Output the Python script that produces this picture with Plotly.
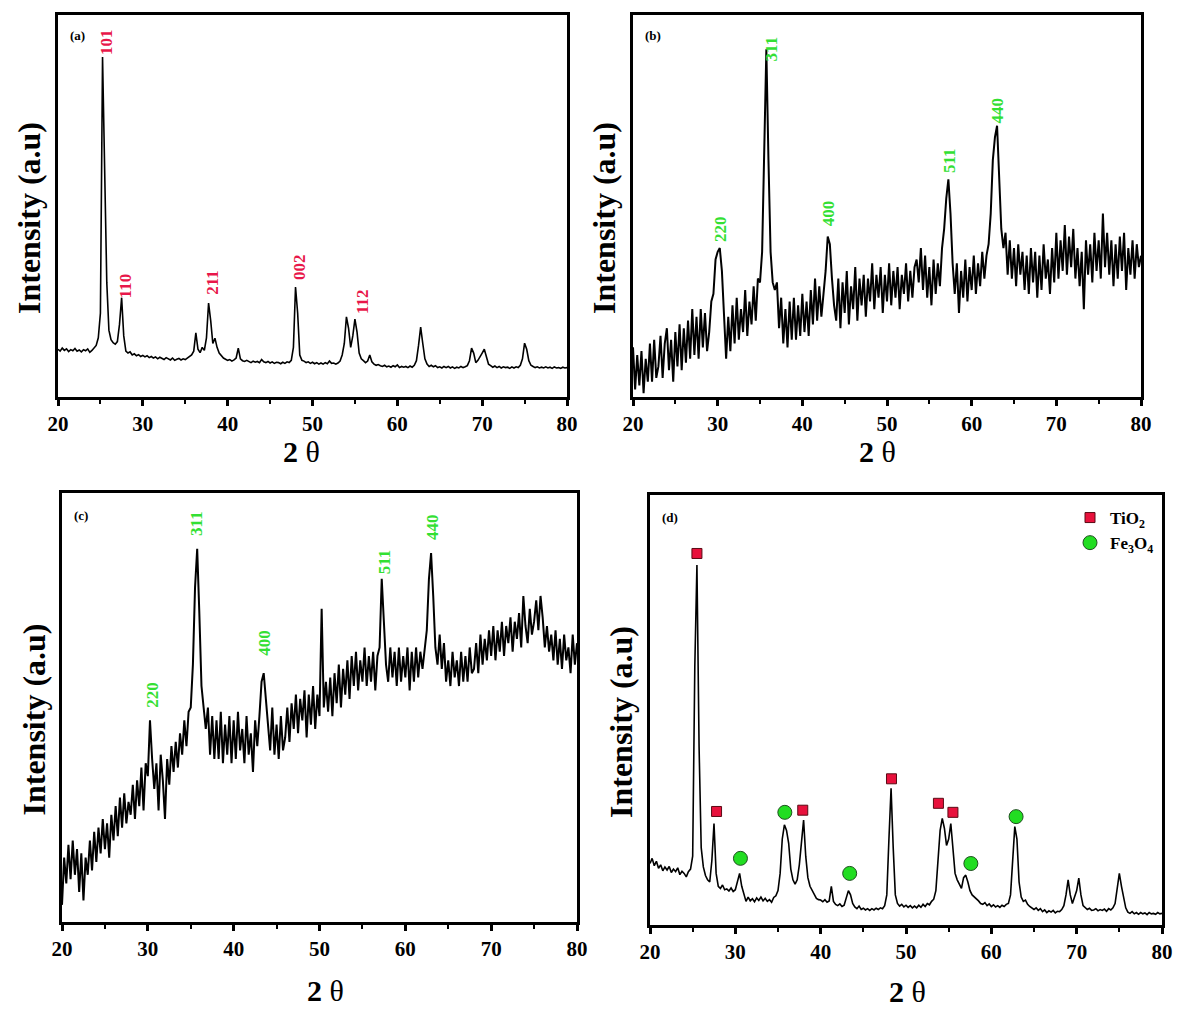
import numpy as np
import plotly.graph_objects as go

# 2-theta grid (degrees), 0.25 deg steps from 20 to 80
two_theta = np.arange(20.0, 80.0001, 0.25)

# Panel (a): TiO2 intensities (a.u., 0-100 scale), one row per degree
int_a = [
    12.5, 12.0, 12.8, 12.2,   # 20
    12.6, 11.9, 12.4, 12.1,   # 21
    12.7, 12.0, 12.3, 11.8,   # 22
    12.4, 12.1, 12.6, 11.7,   # 23
    12.2, 12.9, 13.5, 15.5,   # 24
    22.0, 89.0, 60.0, 30.0,   # 25
    17.5, 15.0, 14.2, 13.8,   # 26
    14.5, 19.0, 26.0, 16.0,   # 27
    12.0, 11.5, 11.8, 11.0,   # 28
    11.3, 10.8, 11.1, 10.6,   # 29
    10.9, 10.5, 10.8, 10.3,   # 30
    10.6, 10.2, 10.5, 10.0,   # 31
    10.4, 10.1, 9.8, 10.3,    # 32
    10.0, 9.7, 10.2, 9.6,     # 33
    9.9, 10.1, 9.7, 10.0,     # 34
    9.8, 10.2, 10.6, 11.0,    # 35
    12.0, 16.8, 12.5, 11.6,   # 36
    13.0, 12.2, 15.5, 24.6,   # 37
    20.0, 14.0, 15.4, 13.0,   # 38
    11.5, 10.8, 10.2, 9.9,    # 39
    9.6, 9.8, 9.4, 9.7,       # 40
    10.2, 12.8, 10.0, 9.5,    # 41
    9.3, 9.6, 9.2, 9.0,       # 42
    9.4, 9.1, 9.3, 9.0,       # 43
    9.8, 9.2, 9.0, 9.3,       # 44
    8.9, 9.2, 8.8, 9.1,       # 45
    9.0, 8.7, 9.1, 8.8,       # 46
    9.2, 9.0, 9.6, 13.0,      # 47
    28.8, 22.0, 11.0, 9.6,    # 48
    9.4, 9.0, 9.2, 8.8,       # 49
    9.1, 8.7, 9.0, 8.6,       # 50
    8.9, 8.6, 9.0, 8.7,       # 51
    9.4, 8.8, 8.9, 8.6,       # 52
    8.9, 9.4, 11.0, 14.0,     # 53
    21.0, 18.0, 13.0, 16.0,   # 54
    20.4, 17.0, 11.5, 10.0,   # 55
    9.5, 9.0, 9.4, 11.0,      # 56
    9.2, 8.6, 8.3, 8.5,       # 57
    8.2, 8.0, 8.3, 7.9,       # 58
    8.1, 7.8, 8.2, 7.9,       # 59
    8.4, 7.7, 8.0, 7.8,       # 60
    8.0, 7.7, 8.1, 7.8,       # 61
    8.3, 9.5, 13.5, 18.3,     # 62
    14.0, 10.0, 8.6, 8.0,     # 63
    8.3, 7.9, 8.2, 7.7,       # 64
    7.9, 7.6, 8.0, 7.7,       # 65
    8.0, 7.6, 7.9, 7.5,       # 66
    7.8, 7.6, 8.0, 7.7,       # 67
    7.9, 8.2, 9.5, 12.8,      # 68
    11.5, 9.0, 9.6, 10.4,     # 69
    11.5, 12.5, 10.5, 8.6,    # 70
    8.2, 7.8, 8.1, 7.7,       # 71
    8.0, 7.6, 7.9, 7.7,       # 72
    7.8, 7.5, 7.9, 7.6,       # 73
    7.9, 7.7, 8.3, 10.0,      # 74
    14.1, 12.5, 9.5, 8.3,     # 75
    8.0, 7.7, 7.9, 7.6,       # 76
    7.8, 7.6, 7.9, 7.6,       # 77
    7.8, 7.5, 7.9, 7.6,       # 78
    7.7, 7.5, 7.8, 7.6,       # 79
    7.7,                      # 80
]

# Panel (b): Fe3O4
int_b = [
    13, 2, 11, 3,     # 20
    12, 1, 10, 4,     # 21
    14, 4, 15, 5,     # 22
    8, 16, 5, 14,     # 23
    18, 7, 15, 4,     # 24
    17, 8, 19, 7,     # 25
    18, 9, 20, 10,    # 26
    23, 11, 21, 10,   # 27
    23, 13, 22, 12,   # 28
    17, 25, 27, 36,   # 29
    38, 39, 33, 20,   # 30
    10, 21, 12, 24,   # 31
    14, 26, 15, 23,   # 32
    17, 28, 16, 25,   # 33
    19, 29, 20, 31,   # 34
    30, 38, 70, 91,   # 35
    62, 38, 30, 28,   # 36
    30, 18, 26, 14,   # 37
    23, 13, 25, 15,   # 38
    26, 15, 24, 16,   # 39
    27, 17, 25, 16,   # 40
    28, 19, 31, 20,   # 41
    29, 21, 27, 33,   # 42
    42, 40, 31, 24,   # 43
    20, 31, 18, 30,   # 44
    22, 33, 19, 29,   # 45
    23, 34, 20, 31,   # 46
    24, 32, 21, 31,   # 47
    25, 35, 23, 32,   # 48
    26, 34, 22, 32,   # 49
    25, 35, 24, 33,   # 50
    26, 34, 23, 32,   # 51
    27, 35, 25, 33,   # 52
    26, 34, 36, 30,   # 53
    39, 28, 37, 26,   # 54
    34, 24, 36, 27,   # 55
    35, 29, 39, 44,   # 56
    52, 57, 48, 35,   # 57
    27, 35, 22, 33,   # 58
    26, 36, 25, 34,   # 59
    28, 37, 27, 35,   # 60
    29, 38, 31, 37,   # 61
    40, 48, 62, 68,   # 62
    71, 58, 44, 39,   # 63
    43, 32, 41, 31,   # 64
    39, 29, 40, 32,   # 65
    38, 28, 37, 27,   # 66
    39, 30, 38, 26,   # 67
    37, 28, 40, 31,   # 68
    36, 27, 39, 30,   # 69
    43, 31, 41, 33,   # 70
    45, 32, 42, 34,   # 71
    44, 31, 39, 29,   # 72
    38, 23, 41, 32,   # 73
    40, 30, 43, 33,   # 74
    41, 31, 48, 34,   # 75
    43, 32, 41, 29,   # 76
    40, 31, 42, 33,   # 77
    43, 28, 39, 32,   # 78
    41, 31, 40, 34,   # 79
    37,               # 80
]

# Panel (c): Fe3O4 (second sample)
int_c = [
    4, 15, 9, 18,     # 20
    10, 19, 11, 17,   # 21
    7, 16, 5, 15,     # 22
    11, 19, 12, 21,   # 23
    14, 22, 16, 24,   # 24
    17, 23, 15, 25,   # 25
    19, 27, 20, 29,   # 26
    22, 30, 23, 28,   # 27
    25, 32, 24, 33,   # 28
    27, 36, 26, 37,   # 29
    34, 47, 38, 31,   # 30
    37, 26, 39, 33,   # 31
    24, 38, 32, 41,   # 32
    35, 42, 36, 44,   # 33
    39, 47, 41, 49,   # 34
    50, 60, 78, 87,   # 35
    72, 55, 50, 45,   # 36
    50, 39, 48, 38,   # 37
    47, 38, 49, 37,   # 38
    46, 39, 48, 37,   # 39
    47, 38, 49, 40,   # 40
    45, 37, 48, 39,   # 41
    44, 35, 47, 41,   # 42
    48, 56, 58, 52,   # 43
    48, 40, 50, 39,   # 44
    46, 38, 48, 40,   # 45
    43, 50, 42, 51,   # 46
    45, 53, 44, 52,   # 47
    47, 54, 43, 53,   # 48
    46, 55, 45, 53,   # 49
    48, 73, 50, 56,   # 50
    49, 57, 48, 58,   # 51
    51, 60, 50, 59,   # 52
    53, 61, 52, 62,   # 53
    55, 63, 54, 61,   # 54
    56, 64, 55, 62,   # 55
    56, 63, 54, 62,   # 56
    64, 80, 70, 60,   # 57
    56, 64, 57, 63,   # 58
    55, 64, 56, 62,   # 59
    57, 64, 54, 63,   # 60
    56, 64, 57, 63,   # 61
    59, 64, 68, 80,   # 62
    86, 76, 64, 60,   # 63
    67, 59, 65, 56,   # 64
    61, 55, 63, 57,   # 65
    61, 55, 63, 56,   # 66
    62, 56, 64, 58,   # 67
    59, 65, 58, 67,   # 68
    60, 66, 61, 68,   # 69
    62, 69, 61, 68,   # 70
    63, 70, 62, 69,   # 71
    65, 71, 63, 70,   # 72
    66, 72, 64, 76,   # 73
    69, 65, 73, 67,   # 74
    70, 75, 68, 76,   # 75
    71, 64, 69, 63,   # 76
    67, 61, 68, 60,   # 77
    66, 59, 67, 61,   # 78
    64, 58, 67, 60,   # 79
    65,               # 80
]

# Panel (d): TiO2/Fe3O4 composite
int_d = [
    14.3, 15.5, 13.8, 14.8,   # 20
    13.2, 14.0, 12.6, 13.5,   # 21
    12.8, 13.6, 12.2, 13.0,   # 22
    12.4, 13.3, 11.7, 12.5,   # 23
    12.0, 11.2, 12.4, 13.0,   # 24
    16.0, 60.0, 83.7, 41.5,   # 25
    18.0, 13.5, 11.5, 10.5,   # 26
    10.0, 15.0, 23.6, 12.0,   # 27
    9.0, 8.5, 9.3, 8.2,       # 28
    8.4, 7.9, 8.6, 7.8,       # 29
    8.2, 10.0, 12.0, 9.0,     # 30
    7.0, 5.5, 6.5, 5.6,       # 31
    6.1, 5.4, 6.3, 5.7,       # 32
    6.5, 5.6, 6.2, 5.5,       # 33
    5.9, 5.3, 6.4, 6.8,       # 34
    8.0, 12.0, 20.0, 23.3,    # 35
    22.0, 19.0, 13.0, 10.5,   # 36
    9.5, 10.5, 14.0, 20.0,    # 37
    24.4, 16.0, 11.0, 9.0,    # 38
    8.0, 7.0, 6.2, 5.9,       # 39
    5.8, 5.4, 5.9, 5.3,       # 40
    5.6, 9.0, 5.5, 4.8,       # 41
    4.5, 4.9, 4.3, 4.6,       # 42
    6.5, 8.0, 7.0, 5.0,       # 43
    4.2, 3.8, 4.4, 3.6,       # 44
    3.9, 3.5, 3.8, 3.4,       # 45
    3.8, 3.5, 3.9, 3.6,       # 46
    4.0, 3.8, 4.5, 7.0,       # 47
    20.0, 31.8, 18.0, 7.0,    # 48
    5.0, 4.4, 4.8, 4.2,       # 49
    4.6, 4.1, 4.5, 4.0,       # 50
    4.4, 4.0, 4.6, 4.1,       # 51
    4.8, 4.3, 5.0, 4.7,       # 52
    5.5, 6.0, 8.0, 14.0,      # 53
    22.0, 24.8, 22.5, 18.5,   # 54
    20.0, 23.6, 17.0, 12.0,   # 55
    10.5, 9.5, 8.5, 11.0,     # 56
    11.6, 10.0, 8.0, 7.0,     # 57
    6.6, 6.0, 5.6, 5.0,       # 58
    4.8, 5.2, 4.5, 4.9,       # 59
    4.3, 4.7, 4.2, 4.5,       # 60
    4.1, 4.6, 4.3, 4.8,       # 61
    5.0, 7.0, 14.0, 22.9,     # 62
    20.0, 10.0, 6.5, 5.5,     # 63
    5.8, 4.8, 4.3, 3.9,       # 64
    3.6, 4.0, 3.4, 3.8,       # 65
    3.1, 3.5, 2.9, 3.3,       # 66
    3.0, 3.4, 2.8, 3.2,       # 67
    3.1, 3.6, 4.5, 7.0,       # 68
    10.5, 7.0, 5.0, 6.5,      # 69
    8.0, 10.9, 7.0, 4.5,      # 70
    4.0, 3.6, 3.9, 3.4,       # 71
    3.5, 3.8, 3.3, 3.6,       # 72
    3.4, 3.7, 3.2, 3.8,       # 73
    3.5, 4.0, 5.0, 8.0,       # 74
    12.0, 9.0, 6.0, 4.0,      # 75
    3.0, 2.7, 3.1, 2.6,       # 76
    2.9, 2.5, 2.9, 2.6,       # 77
    2.8, 2.4, 2.9, 2.6,       # 78
    2.7, 2.5, 2.9, 2.6,       # 79
    2.7,                      # 80
]

# Peak (hkl) labels: text, 2theta, label-centre height
labels_a = ["101", "110", "211", "002", "112"]
labels_a_x = [25.8, 27.9, 38.2, 48.4, 55.9]
labels_a_y = [93, 29, 30, 34, 25]

labels_b = ["220", "311", "400", "511", "440"]
labels_b_x = [30.4, 36.3, 43.1, 57.3, 63.0]
labels_b_y = [44, 91, 48, 62, 75]

labels_c = ["220", "311", "400", "511", "440"]
labels_c_x = [30.5, 35.6, 43.5, 57.6, 63.2]
labels_c_y = [53, 93, 65, 84, 92]

# Phase markers in panel (d)
tio2_x = [25.5, 27.8, 37.9, 48.3, 53.8, 55.5]
tio2_y = [86.4, 26.4, 26.7, 34.0, 28.3, 26.2]
fe3o4_x = [30.6, 35.8, 43.4, 57.6, 62.9]
fe3o4_y = [15.5, 26.2, 12.0, 14.3, 25.2]

tick_vals = [20, 30, 40, 50, 60, 70, 80]

W, H = 1179, 1010
FONT = "Liberation Serif"
RED = "#e8174a"
GREEN = "#33e033"

panels = [
    # tag, x-domain px, y-domain px (top, bottom), data, labels, colour, line width, x-title centre
    ("a", (58, 567), (15, 397), int_a, (labels_a, labels_a_x, labels_a_y), RED, 1.6, (301, 452)),
    ("b", (633, 1141), (15, 397), int_b, (labels_b, labels_b_x, labels_b_y), GREEN, 2.0, (877, 452)),
    ("c", (62, 577), (493, 922), int_c, (labels_c, labels_c_x, labels_c_y), GREEN, 2.0, (325, 990)),
    ("d", (650, 1162), (495, 925), int_d, None, None, 1.6, (907, 991)),
]

fig = go.Figure()
annotations = []
for i, (tag, (x0, x1), (yt, yb), yvals, labs, col, lw, (tx, ty)) in enumerate(panels):
    n = "" if i == 0 else str(i + 1)
    xa, ya = "x" + n, "y" + n
    fig.add_trace(go.Scatter(x=two_theta, y=yvals, mode="lines",
                             line=dict(color="black", width=lw),
                             xaxis=xa, yaxis=ya, showlegend=False,
                             hoverinfo="skip"))
    axcommon = dict(showline=True, linecolor="black", linewidth=3, mirror=True,
                    showgrid=False, zeroline=False, automargin=False)
    fig.layout["xaxis" + n] = dict(
        domain=[x0 / W, x1 / W], anchor=ya, range=[20, 80],
        tickvals=tick_vals, ticks="outside", ticklen=6, tickwidth=2.5,
        tickcolor="black",
        minor=dict(tickvals=[25, 35, 45, 55, 65, 75], ticks="outside",
                   ticklen=4, tickwidth=2, tickcolor="black"),
        tickfont=dict(family=FONT, size=21, color="black", weight="bold"),
        **axcommon)
    fig.layout["yaxis" + n] = dict(
        domain=[1 - yb / H, 1 - yt / H], anchor=xa, range=[0, 100],
        showticklabels=False, ticks="", **axcommon)
    # x-axis title
    annotations.append(dict(text="<b>2</b> θ", xref="paper", yref="paper",
                            x=tx / W, y=1 - ty / H, xanchor="center",
                            yanchor="middle", showarrow=False,
                            font=dict(family=FONT, size=30, color="black")))
    # y-axis title
    annotations.append(dict(text="Intensity (a.u)", xref="paper", yref="paper",
                            x=(x0 - 29) / W, y=1 - ((yt + yb) / 2 + 12) / H,
                            xanchor="center", yanchor="middle",
                            textangle=-90, showarrow=False,
                            font=dict(family=FONT, size=32, color="black",
                                      weight="bold")))
    # panel tag
    annotations.append(dict(text="(" + tag + ")", xref=xa + " domain",
                            yref=ya + " domain", x=0.02, y=0.97,
                            xanchor="left", yanchor="top", showarrow=False,
                            font=dict(family=FONT, size=13, color="black",
                                      weight="bold")))
    if labs is not None:
        for t, lx, ly in zip(*labs):
            annotations.append(dict(text=t, x=lx, y=ly, xref=xa, yref=ya,
                                    xanchor="center", yanchor="middle",
                                    textangle=-90, showarrow=False,
                                    font=dict(family=FONT, size=17, color=col,
                                              weight="bold")))

fig.add_trace(go.Scatter(x=tio2_x, y=tio2_y, mode="markers", name="TiO<sub>2</sub>",
                         marker=dict(symbol="square", size=10, color="#e8113c",
                                     line=dict(color="#5a0a14", width=1)),
                         xaxis="x4", yaxis="y4", hoverinfo="skip"))
fig.add_trace(go.Scatter(x=fe3o4_x, y=fe3o4_y, mode="markers", name="Fe<sub>3</sub>O<sub>4</sub>",
                         marker=dict(symbol="circle", size=14, color="#22dd22",
                                     line=dict(color="#1f4f1f", width=1)),
                         xaxis="x4", yaxis="y4", hoverinfo="skip"))

fig.update_layout(
    width=W, height=H, margin=dict(l=0, r=0, t=0, b=0, autoexpand=False),
    paper_bgcolor="white", plot_bgcolor="white",
    annotations=annotations,
    legend=dict(x=1070 / W, y=1 - 500 / H, xanchor="left", yanchor="top",
                bgcolor="rgba(0,0,0,0)", itemwidth=30,
                font=dict(family=FONT, size=17, color="black", weight="bold")),
)

fig.write_html("out.html", config={"displayModeBar": False},
               post_script="document.body.style.margin='0px';")
